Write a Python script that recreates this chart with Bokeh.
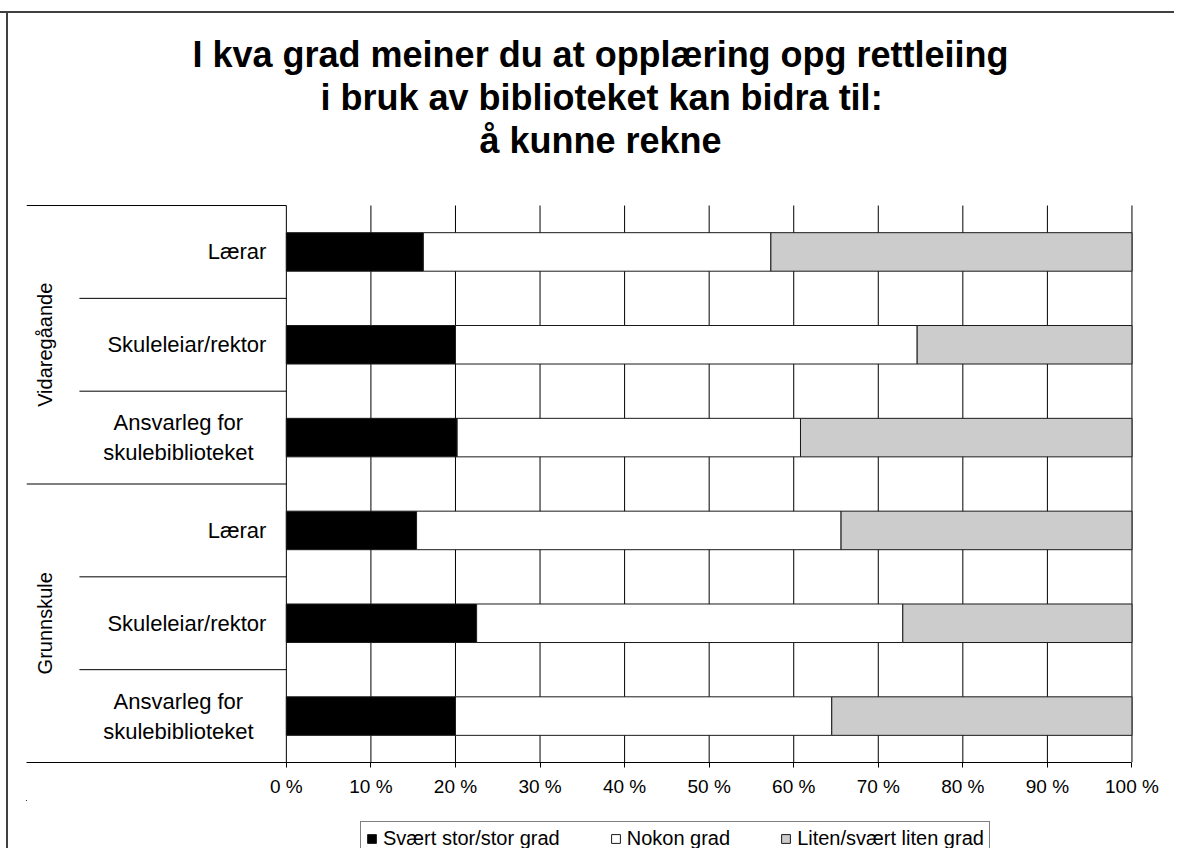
import math
from bokeh.plotting import figure
from bokeh.layouts import column
from bokeh.models import (Range1d, FixedTicker, Legend, LegendItem, Title,
                          ColumnDataSource, PrintfTickFormatter)
from bokeh.core.properties import value
from bokeh.embed import file_html
from bokeh.resources import INLINE

# ---------------- data ----------------
title_lines = ["I kva grad meiner du at opplæring opg rettleiing",
               "i bruk av biblioteket kan bidra til:",
               "å kunne rekne"]
groups = ["Vidaregåande", "Grunnskule"]
roles = ["Lærar", "Skuleleiar/rektor", "Ansvarleg for\nskulebiblioteket"]
series_names = ["Svært stor/stor grad", "Nokon grad", "Liten/svært liten grad"]
# order of rows (top to bottom): Vidaregåande x roles, then Grunnskule x roles
svaert_stor = [16.2, 20.0, 20.2, 15.4, 22.5, 20.0]
nokon_grad = [41.1, 54.6, 40.6, 50.2, 50.4, 44.5]
liten_grad = [42.7, 25.4, 39.2, 34.4, 27.1, 35.5]
x_ticks = [0, 10, 20, 30, 40, 50, 60, 70, 80, 90, 100]

# ---------------- styles ----------------
FONT = "Liberation Sans"
fill_colors = ["#000000", "#FFFFFF", "#CCCCCC"]
n_rows = len(groups) * len(roles)
left_extent = 30.73      # label area left of 0 %, in axis units
right_pad = 0.3
top_gap = 0.485          # empty band between title and bars, in row units
label_right = -2.36
label_center_multi = -12.77
group_label_x = -28.6
short_sep_start = -24.47
title_offsets = [166, 294, 453]   # left offsets of the title lines (px from plot-area left)
W = 1174

row_labels = [r for g in groups for r in roles]
ys = [n_rows - i - 0.5 for i in range(n_rows)]

src = ColumnDataSource(dict(y=ys, s1=svaert_stor, s2=nokon_grad, s3=liten_grad))

p = figure(width=W, height=800, output_backend="svg", toolbar_location=None,
           x_range=Range1d(-left_extent, 100 + right_pad),
           y_range=Range1d(0, n_rows + top_gap),
           y_axis_location=None, min_border_left=26, min_border_right=40,
           min_border_top=160, min_border_bottom=38)
p.outline_line_color = None
p.background_fill_color = "white"
p.border_fill_alpha = 0
p.grid.visible = False

# x axis
ax = p.xaxis[0]
ax.ticker = FixedTicker(ticks=x_ticks)
ax.formatter = PrintfTickFormatter(format="%d %%")
ax.bounds = (-left_extent, 100)
ax.axis_line_color = "black"
ax.major_tick_line_color = "black"
ax.minor_tick_line_color = None
ax.major_tick_out = 5
ax.major_tick_in = 0
ax.major_label_standoff = 8
ax.major_label_text_font = FONT
ax.major_label_text_font_size = "19px"
ax.major_label_text_color = "black"

# vertical grid lines at the ticks, over the bar rows only
p.segment(x0=x_ticks, x1=x_ticks, y0=[0] * len(x_ticks), y1=[n_rows] * len(x_ticks),
          line_color="black", line_width=1)

# bars
rs = p.hbar_stack(["s1", "s2", "s3"], y="y", height=0.415, source=src,
                  fill_color=fill_colors, line_color="#1a1a1a", line_width=1)

# category labels
single = [(y, l) for y, l in zip(ys, row_labels) if "\n" not in l]
multi = [(y, l) for y, l in zip(ys, row_labels) if "\n" in l]
p.text(x=[label_right] * len(single), y=[s[0] for s in single], text=[s[1] for s in single],
       text_align="right", text_baseline="middle", text_font=value(FONT),
       text_font_size="22px", text_color="black")
p.text(x=[label_center_multi] * len(multi), y=[s[0] for s in multi], text=[s[1] for s in multi],
       text_align="center", text_baseline="middle", text_font=value(FONT),
       text_font_size="22px", text_color="black", text_line_height=1.2)

# group labels (vertical)
n_r = len(roles)
group_y = [n_rows - (gi * n_r + n_r / 2) for gi in range(len(groups))]
p.text(x=[group_label_x] * len(groups), y=group_y, text=groups, angle=math.pi / 2,
       text_align="center", text_baseline="middle", text_font=value(FONT),
       text_font_size="20px", text_color="black")

# separators on category side
short_y = [n_rows - (gi * n_r + k) for gi in range(len(groups)) for k in range(1, n_r)]
long_y = [n_rows - gi * n_r for gi in range(len(groups))]
p.segment(x0=[short_sep_start] * len(short_y), x1=[0] * len(short_y), y0=short_y, y1=short_y,
          line_color="black", line_width=1)
p.segment(x0=[-left_extent] * len(long_y), x1=[0] * len(long_y), y0=long_y, y1=long_y,
          line_color="black", line_width=1)

# title (three lines, added innermost first)
for line, off in reversed(list(zip(title_lines, title_offsets))):
    t = Title(text=line, align="left", offset=off, text_font=FONT, text_font_size="36px",
              text_font_style="bold", text_color="black", standoff=0)
    p.add_layout(t, "above")

# ---------------- legend strip ----------------
p2 = figure(width=W, height=48, output_backend="svg", toolbar_location=None,
            x_axis_location=None, y_axis_location=None,
            min_border_left=0, min_border_right=0, min_border_top=0, min_border_bottom=0,
            x_range=Range1d(1000, 1001), y_range=Range1d(-1000, -999))
p2.outline_line_color = None
p2.background_fill_alpha = 0
p2.border_fill_alpha = 0
p2.grid.visible = False
# same bars (entirely outside this strip's view) serve as legend keys
keys = p2.hbar_stack(["s1", "s2", "s3"], y="y", height=0.415, source=src,
                     fill_color=fill_colors, line_color="#1a1a1a", line_width=1)
legend = Legend(items=[LegendItem(label=n, renderers=[r]) for n, r in zip(series_names, keys)],
                location=(334, -8), orientation="horizontal")
legend.label_text_font = FONT
legend.label_text_font_size = "20px"
legend.label_text_color = "black"
legend.glyph_width = 11
legend.glyph_height = 11
legend.label_standoff = 6
legend.spacing = 50
legend.padding = 5
legend.margin = 0
legend.border_line_color = "black"
legend.border_line_width = 1
legend.background_fill_color = "white"
legend.background_fill_alpha = 1
p2.add_layout(legend, "center")

layout = column(p, p2, spacing=0, styles={
    "background": ("linear-gradient(#404040, #404040) 0px 11px / 100% 2px no-repeat, "
                   "linear-gradient(#404040, #404040) 6px 11px / 2px 100% no-repeat, white"),
})

open("out.html", "w").write(file_html(layout, INLINE))
